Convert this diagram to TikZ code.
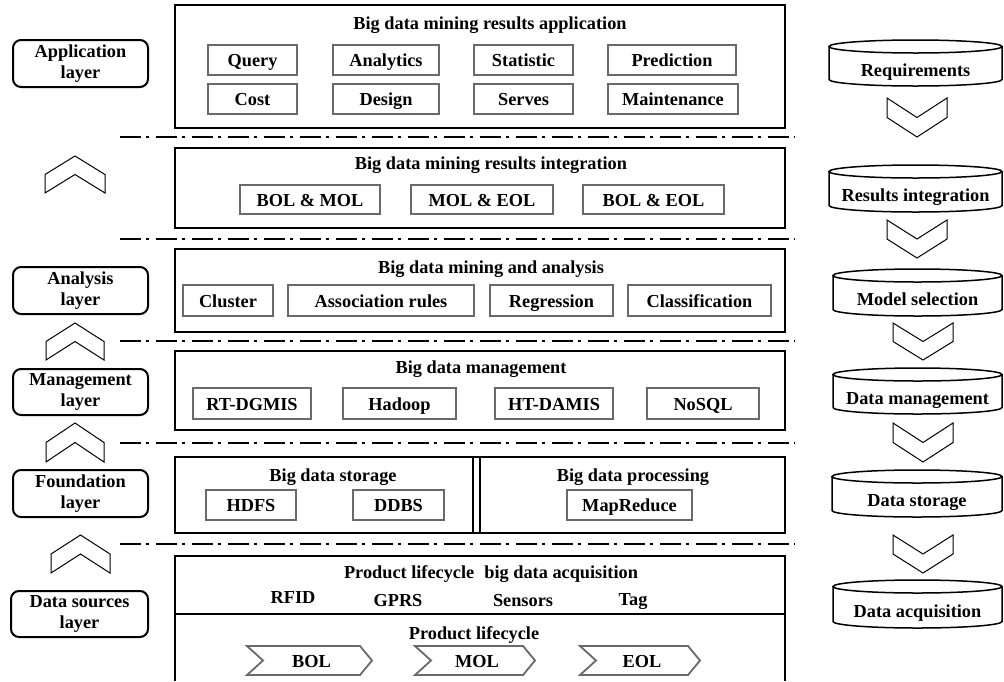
\documentclass[tikz,border=0pt]{standalone}
\usepackage{fontspec}
\setmainfont{Liberation Serif}
\definecolor{ingray}{RGB}{105,105,105}
\tikzset{
  every node/.style={font=\fontsize{18.3}{21}\selectfont\bfseries, inner sep=0pt, outer sep=0pt},
  ln/.style={text height=13pt, text depth=0pt},
  mainrect/.style={draw=black, line width=2pt, rectangle},
  ibox/.style={draw=ingray, line width=1.8pt, rectangle, ln},
  sigline/.style={draw=ingray, line width=1.8pt},
  lblbox/.style={draw=black, line width=2pt, rounded corners=8pt, rectangle, align=center},
  cylline/.style={draw=black, line width=1.5pt},
  chev/.style={draw=black, line width=1pt, line join=miter},
  sep/.style={draw=black, line width=2.2pt, dash pattern=on 21pt off 5pt on 3pt off 7pt},
}
\newcommand\ibx[6]{\node[ibox, minimum width={#4pt-#2pt}, minimum height={#5pt-#3pt}] (#1) at ({(#2+#4)/2},{(#3+#5)/2}) {#6};}
\newcommand\mainbx[5]{\node[mainrect, minimum width={#4pt-#2pt}, minimum height={#5pt-#3pt}] (#1) at ({(#2+#4)/2},{(#3+#5)/2}) {};}
\newcommand\lblbx[6]{\node[lblbox, minimum width={#4pt-#2pt}, minimum height={#5pt-#3pt}] (#1) at ({(#2+#4)/2},{(#3+#5)/2}) {#6};}
\newcommand\cylbx[6]{%
  \pgfmathsetmacro\cyX{(#2+#4)/2}\pgfmathsetmacro\cyR{(#4-#2)/2}%
  \draw[cylline] ({#2},{#3+6.5}) -- ({#2},{#5-6.5}) arc[start angle=180, end angle=0, x radius=\cyR, y radius=6.5] -- ({#4},{#3+6.5});
  \draw[cylline] (\cyX,{#3+6.5}) ellipse[x radius=\cyR, y radius=6.5];
  \node[ln] (#1) at (\cyX,{(#3+13+#5)/2}) {#6};}
\newcommand\chevup[4]{\draw[chev] ({#1},{(#2+#4)/2}) -- ({(#1+#3)/2},{#2}) -- ({#3},{(#2+#4)/2}) -- ({#3},{#4}) -- ({(#1+#3)/2},{(#2+#4)/2}) -- ({#1},{#4}) -- cycle;}
\newcommand\chevdn[4]{\draw[chev] ({#1},{#2}) -- ({(#1+#3)/2},{(#2+#4)/2}) -- ({#3},{#2}) -- ({#3},{(#2+#4)/2}) -- ({(#1+#3)/2},{#4}) -- ({#1},{(#2+#4)/2}) -- cycle;}
\newcommand\sigbx[6]{%
  \draw[sigline] ({#2},{#3}) -- ({#4-12},{#3}) -- ({#4},{(#3+#5)/2}) -- ({#4-12},{#5}) -- ({#2},{#5}) -- ({#2+16},{(#3+#5)/2}) -- cycle;
  \node[ln] (#1) at ({(#2+#4)/2+2},{(#3+#5)/2}) {#6};}
\begin{document}
\begin{tikzpicture}[x=1pt,y=-1pt]
\useasboundingbox (0,0) rectangle (1004,681);
% main boxes
\mainbx{bapp}{175}{5}{785}{128}
\mainbx{bint}{175}{148}{785}{228}
\mainbx{bana}{175}{249}{785}{332}
\mainbx{bman}{175}{351}{785}{430}
\mainbx{bfnd}{175}{457}{785}{533}
\draw[mainrect] (175,681) -- (175,556) -- (785,556) -- (785,681);
\draw[mainrect] (175,614) -- (785,614);
\draw[black, line width=2pt] (473,457) -- (473,533);
\draw[black, line width=2pt] (480,457) -- (480,533);
% separators
\foreach \yy in {137,239,341,443,544} {\draw[sep] (120,\yy) -- (795,\yy);}
% titles
\node[ln] (tapp) at (490,23) {Big data mining results application};
\node[ln] (tint) at (491,163) {Big data mining results integration};
\node[ln] (tana) at (491,267) {Big data mining and analysis};
\node[ln] (tman) at (481,367) {Big data management};
\node[ln] (tsto) at (333,475) {Big data storage};
\node[ln] (tpro) at (633,475) {Big data processing};
\node[ln] (tacq) at (491,572) {Product lifecycle\hspace{0.55em}big data acquisition};
\node[ln] (tplc) at (474,633) {Product lifecycle};
% application inner boxes
\ibx{query}{208}{45}{297}{75}{Query}
\ibx{analytics}{333}{45}{439}{75}{Analytics}
\ibx{statistic}{474}{45}{573}{75}{Statistic}
\ibx{prediction}{608}{45}{736}{75}{Prediction}
\ibx{cost}{208}{84}{297}{114}{Cost}
\ibx{design}{333}{84}{439}{114}{Design}
\ibx{serves}{474}{84}{573}{114}{Serves}
\ibx{maint}{608}{84}{738}{114}{Maintenance}
% integration
\ibx{bm}{240}{185}{380}{214}{BOL \& MOL}
\ibx{me}{411}{185}{553}{214}{MOL \& EOL}
\ibx{be}{583}{185}{724}{214}{BOL \& EOL}
% analysis
\ibx{cluster}{183}{285}{273}{316}{Cluster}
\ibx{assoc}{288}{285}{474}{316}{Association rules}
\ibx{regr}{490}{285}{613}{316}{Regression}
\ibx{classif}{628}{285}{771}{316}{Classification}
% management
\ibx{rtd}{193}{388}{311}{419}{RT-DGMIS}
\ibx{hadoop}{343}{388}{456}{419}{Hadoop}
\ibx{htd}{495}{388}{613}{419}{HT-DAMIS}
\ibx{nosql}{647}{388}{759}{419}{NoSQL}
% foundation
\ibx{hdfs}{206}{490}{296}{520}{HDFS}
\ibx{ddbs}{353}{490}{444}{520}{DDBS}
\ibx{mapred}{567}{490}{692}{520}{MapReduce}
% acquisition
\node[ln] (rfid) at (293,597) {RFID};
\node[ln] (gprs) at (398,600) {GPRS};
\node[ln] (sens) at (523,600) {Sensors};
\node[ln] (tag) at (633,599) {Tag};
\sigbx{bol}{247}{646}{372}{675}{BOL}
\sigbx{mol}{415}{646}{535}{675}{MOL}
\sigbx{eol}{580}{646}{700}{675}{EOL}
% left labels
\lblbx{lapp}{13}{40}{148}{87}{Application\\layer}
\lblbx{lana}{13}{267}{148}{314}{Analysis\\layer}
\lblbx{lman}{13}{369}{148}{415}{Management\\layer}
\lblbx{lfnd}{13}{470}{148}{517}{Foundation\\layer}
\lblbx{lsrc}{11}{591}{148}{637}{Data sources\\layer}
\chevup{45}{156}{105}{193}
\chevup{46}{323}{104}{360}
\chevup{46}{423}{104}{462}
\chevup{51}{535}{110}{573}
% right cylinders
\cylbx{creq}{829}{40}{1002}{86}{Requirements}
\cylbx{cres}{829}{165}{1002}{212}{Results integration}
\cylbx{cmod}{833}{269}{1002}{316}{Model selection}
\cylbx{cman}{833}{368}{1002}{414}{Data management}
\cylbx{csto}{832}{470}{1002}{517}{Data storage}
\cylbx{cacq}{833}{580}{1002}{628}{Data acquisition}
\chevdn{887}{98}{947}{137}
\chevdn{887}{220}{947}{258}
\chevdn{893}{323}{953}{360}
\chevdn{893}{423}{953}{462}
\chevdn{893}{535}{953}{573}
\end{tikzpicture}
\end{document}
